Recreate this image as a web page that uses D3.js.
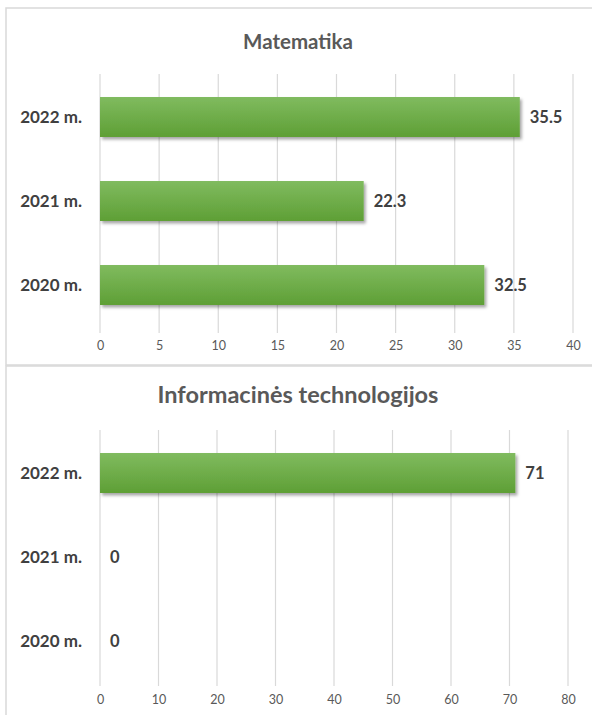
<!DOCTYPE html>
<html>
<head>
<meta charset="utf-8">
<script src="https://cdn.jsdelivr.net/npm/d3@7"></script>
<style>
  html, body { margin: 0; padding: 0; background: #fff; }
  svg { display: block; font-family: Lato, "Open Sans", sans-serif; }
</style>
</head>
<body>
<svg id="chart" width="592" height="715"></svg>
<script>
const categories = ["2022 m.", "2021 m.", "2020 m."];
const mathValues = [35.5, 22.3, 32.5];
const itValues = [71, 0, 0];
const mathTicks = [0, 5, 10, 15, 20, 25, 30, 35, 40];
const itTicks = [0, 10, 20, 30, 40, 50, 60, 70, 80];
const titles = ["Matematika", "Informacinės technologijos"];

const svg = d3.select("#chart");
const defs = svg.append("defs");
const grad = defs.append("linearGradient").attr("id", "barGrad")
  .attr("x1", 0).attr("y1", 0).attr("x2", 0).attr("y2", 1);
grad.append("stop").attr("offset", "0%").attr("stop-color", "#80bb5f");
grad.append("stop").attr("offset", "100%").attr("stop-color", "#5e9f35");
const filt = defs.append("filter").attr("id", "shadow")
  .attr("x", "-5%").attr("y", "-20%").attr("width", "115%").attr("height", "160%");
filt.append("feDropShadow").attr("dx", 2).attr("dy", 2.5).attr("stdDeviation", 1.6)
  .attr("flood-color", "#000").attr("flood-opacity", 0.35);

// panel borders
svg.append("rect").attr("x", 6).attr("y", 8).attr("width", 600).attr("height", 357)
  .attr("fill", "none").attr("stroke", "#d9d9d9").attr("stroke-width", 1.5);
svg.append("rect").attr("x", 6).attr("y", 366).attr("width", 600).attr("height", 400)
  .attr("fill", "none").attr("stroke", "#d9d9d9").attr("stroke-width", 1.5);

function panel(cfg) {
  const g = svg.append("g");
  const x = d3.scaleLinear().domain(cfg.domain).range([100, cfg.xMax]);
  const y = d3.scaleBand().domain(categories).range([cfg.top, cfg.top + 252])
    .paddingInner(0.524).paddingOuter(0.262);

  g.append("text").attr("x", 298).attr("y", cfg.titleY)
    .attr("text-anchor", "middle").attr("font-size", cfg.titleSize).attr("font-weight", 700)
    .attr("fill", "#595959").text(cfg.title);

  // gridlines
  g.append("g").selectAll("line").data(cfg.ticks).join("line")
    .attr("x1", d => x(d)).attr("x2", d => x(d))
    .attr("y1", cfg.top - 1).attr("y2", cfg.gridBottom)
    .attr("stroke", "#d9d9d9").attr("stroke-width", 1.2);

  // axis tick labels
  const axis = d3.axisBottom(x).tickValues(cfg.ticks).tickSize(0).tickPadding(0);
  const ag = g.append("g").attr("transform", `translate(0,${cfg.tickY})`).call(axis);
  ag.select(".domain").remove();
  ag.selectAll("text").attr("font-size", 12.5).attr("fill", "#595959")
    .attr("font-family", "Lato, sans-serif").attr("dy", "0.35em");

  // bars
  g.append("g").selectAll("rect").data(cfg.values).join("rect")
    .attr("x", x(0)).attr("y", (d, i) => y(categories[i]))
    .attr("width", d => x(d) - x(0)).attr("height", y.bandwidth())
    .attr("fill", "url(#barGrad)").attr("filter", "url(#shadow)");

  // value labels
  g.append("g").selectAll("text").data(cfg.values).join("text")
    .attr("x", d => x(d) + 10).attr("y", (d, i) => y(categories[i]) + y.bandwidth() / 2)
    .attr("dy", "0.35em").attr("font-size", 16.5).attr("font-weight", 700)
    .attr("fill", "#404040").text(d => d);

  // category labels
  g.append("g").selectAll("text").data(categories).join("text")
    .attr("x", 82).attr("y", d => y(d) + y.bandwidth() / 2)
    .attr("dy", "0.35em").attr("text-anchor", "end")
    .attr("font-size", 17).attr("font-weight", 700).attr("fill", "#404040").text(d => d);
}

panel({ title: titles[0], titleY: 49, titleSize: 20.5, domain: [0, 40], xMax: 573, ticks: mathTicks,
        values: mathValues, top: 75, gridBottom: 333, tickY: 346 });
panel({ title: titles[1], titleY: 403, titleSize: 23.5, domain: [0, 80], xMax: 568, ticks: itTicks,
        values: itValues, top: 431, gridBottom: 686, tickY: 700 });
</script>
</body>
</html>
